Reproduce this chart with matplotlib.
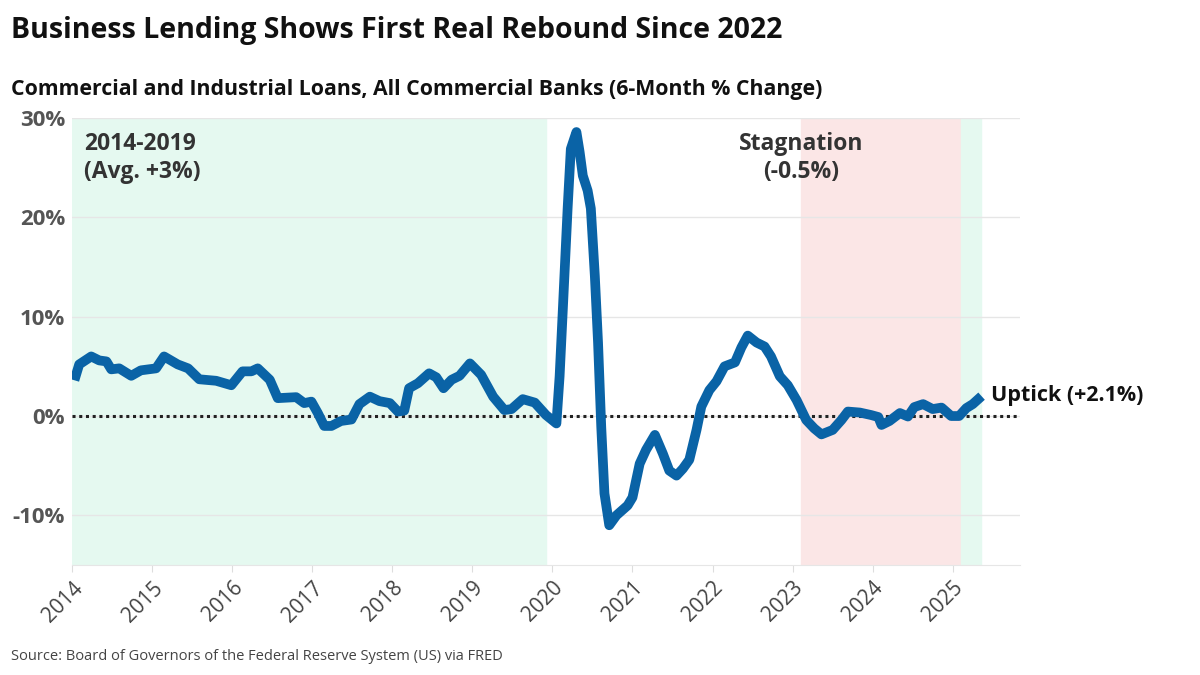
import matplotlib.pyplot as plt

plt.rcParams['font.family'] = ['Open Sans', 'DejaVu Sans']

# 6-month % change (decimal year, percent)
years = [2014.03, 2014.09, 2014.24, 2014.34, 2014.43, 2014.49, 2014.59, 2014.74, 2014.86,
         2015.05, 2015.15, 2015.32, 2015.45, 2015.59, 2015.80, 2015.99,
         2016.13, 2016.24, 2016.32, 2016.47, 2016.57, 2016.80, 2016.90, 2016.99,
         2017.07, 2017.15, 2017.24, 2017.36, 2017.49, 2017.59, 2017.72, 2017.84, 2017.97,
         2018.07, 2018.15, 2018.21, 2018.32, 2018.46, 2018.55, 2018.64, 2018.74, 2018.84, 2018.97,
         2019.11, 2019.26, 2019.40, 2019.49, 2019.63, 2019.78, 2019.92,
         2020.05, 2020.09, 2020.13, 2020.19, 2020.23, 2020.30, 2020.34, 2020.38, 2020.44,
         2020.48, 2020.53, 2020.57, 2020.61, 2020.65, 2020.71, 2020.80, 2020.94,
         2021.00, 2021.09, 2021.17, 2021.28, 2021.38, 2021.46, 2021.55, 2021.63, 2021.71,
         2021.80, 2021.86, 2021.96,
         2022.05, 2022.15, 2022.28, 2022.36, 2022.44, 2022.55, 2022.65, 2022.73, 2022.84, 2022.94,
         2023.05, 2023.17, 2023.27, 2023.36, 2023.50, 2023.61, 2023.69, 2023.84, 2023.98,
         2024.07, 2024.11, 2024.21, 2024.34, 2024.44, 2024.52, 2024.63, 2024.75, 2024.86, 2024.98,
         2025.08, 2025.17, 2025.25, 2025.36]
change = [3.6, 5.2, 6.0, 5.6, 5.5, 4.7, 4.8, 4.05, 4.6,
          4.8, 6.0, 5.2, 4.8, 3.7, 3.55, 3.1,
          4.5, 4.5, 4.8, 3.65, 1.8, 1.9, 1.3, 1.45,
          0.3, -1.0, -1.0, -0.5, -0.35, 1.2, 1.95, 1.5, 1.3,
          0.45, 0.55, 2.8, 3.3, 4.3, 3.9, 2.8, 3.65, 4.05, 5.3,
          4.15, 1.95, 0.6, 0.7, 1.7, 1.35, 0.1,
          -0.75, 4.0, 10.7, 20.9, 26.9, 28.6, 26.6, 24.2, 22.7,
          20.9, 14.1, 7.4, -1.1, -7.8, -11.0, -10.0, -9.0,
          -8.2, -4.8, -3.4, -1.9, -3.8, -5.5, -6.0, -5.3, -4.4,
          -1.4, 0.95, 2.6,
          3.5, 5.0, 5.4, 6.9, 8.1, 7.4, 7.0, 6.0, 4.0, 3.1,
          1.6, -0.4, -1.25, -1.85, -1.4, -0.4, 0.45, 0.35, 0.1,
          -0.1, -0.9, -0.5, 0.3, -0.05, 0.9, 1.2, 0.7, 0.85, 0.0,
          0.0, 0.8, 1.2, 2.0]

tick_years = list(range(2014, 2026))
y_ticks = [-10, 0, 10, 20, 30]

fig = plt.figure(figsize=(12, 6.75), dpi=100)
ax = fig.add_axes([0.06, 0.163, 0.79, 0.662])

ax.axvspan(2014.0, 2019.92, color='#e5f9f0', zorder=0)
ax.axvspan(2023.11, 2025.10, color='#fbe6e6', zorder=0)
ax.axvspan(2025.10, 2025.35, color='#e5f9f0', zorder=0)

for y in y_ticks:
    ax.axhline(y, color='#e6e6e6', lw=1, zorder=1)
ax.axhline(0, color='#222222', lw=2.2, ls=(0, (1, 1.2)), zorder=2)

ax.plot(years, change, color='#0a63a6', lw=7, solid_capstyle='butt',
        solid_joinstyle='round', zorder=3)

ax.set_xlim(2014.0, 2025.84)
ax.set_ylim(-15, 30)
ax.set_xticks(tick_years)
ax.set_xticklabels([str(y) for y in tick_years], rotation=45, ha='right',
                   rotation_mode='anchor', fontsize=15, color='#444444')
ax.set_yticks(y_ticks)
ax.set_yticklabels([f'{y}%' for y in y_ticks], fontsize=16, color='#555555',
                   fontweight='bold')
ax.tick_params(axis='y', length=0, pad=5)
ax.tick_params(axis='x', length=5, color='#dddddd', pad=4)
for s in ax.spines.values():
    s.set_visible(False)
ax.spines['bottom'].set_visible(True)
ax.spines['bottom'].set_color('#e6e6e6')

ax.text(2014.15, 28.6, '2014-2019\n(Avg. +3%)', fontsize=16.5, fontweight='bold',
        color='#333333', va='top', ha='left', linespacing=1.2)
ax.text(2023.11, 28.6, 'Stagnation\n(-0.5%)', fontsize=16.5, fontweight='bold',
        color='#333333', va='top', ha='center', linespacing=1.2)
ax.text(2025.48, 2.1, 'Uptick (+2.1%)', fontsize=15.5, fontweight='bold',
        color='#111111', va='center', ha='left')

fig.text(0.009, 0.955, 'Business Lending Shows First Real Rebound Since 2022',
         fontsize=20.5, fontweight='bold', color='#111111', va='center')
fig.text(0.009, 0.868, 'Commercial and Industrial Loans, All Commercial Banks (6-Month % Change)',
         fontsize=15.3, fontweight='bold', color='#111111', va='center')
fig.text(0.009, 0.028, 'Source: Board of Governors of the Federal Reserve System (US) via FRED',
         fontsize=10.5, color='#444444', va='center')

fig.savefig('out.png', dpi=100)
